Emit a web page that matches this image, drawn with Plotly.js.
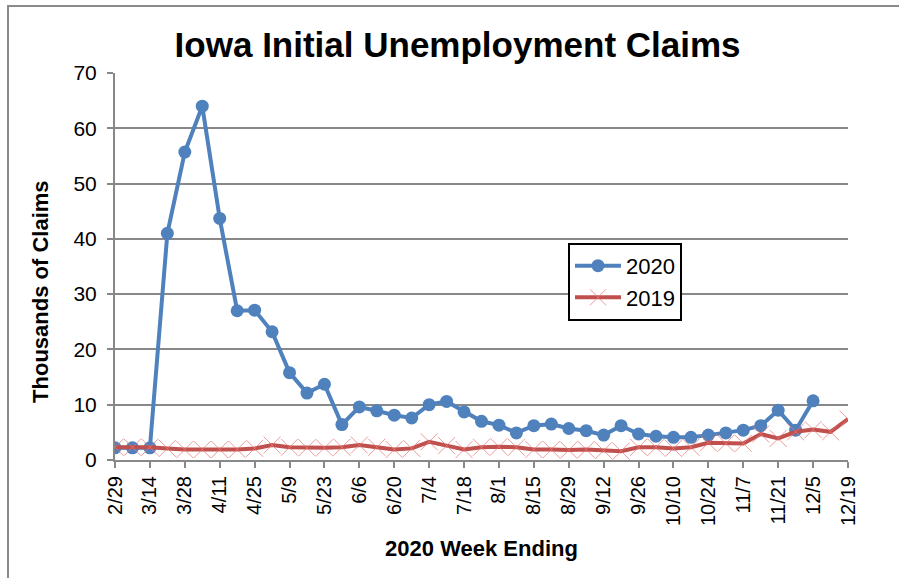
<!DOCTYPE html>
<html>
<head>
<meta charset="utf-8">
<script src="https://cdn.plot.ly/plotly-3.0.1.min.js"></script>
<style>
  html, body { margin: 0; padding: 0; background: #fff; }
  #chart { position: absolute; left: 0; top: 0; width: 899px; height: 578px; }
  #frame { position: absolute; left: 7px; top: 5px; width: 892px; height: 573px;
           border-top: 2px solid #8a8a8a; border-left: 2px solid #8a8a8a; pointer-events: none; }
</style>
</head>
<body>
<div id="chart"></div>
<div id="frame"></div>
<script>
const weeks = ["2/29","3/7","3/14","3/21","3/28","4/4","4/11","4/18","4/25","5/2","5/9","5/16","5/23","5/30",
  "6/6","6/13","6/20","6/27","7/4","7/11","7/18","7/25","8/1","8/8","8/15","8/22","8/29","9/5","9/12","9/19",
  "9/26","10/3","10/10","10/17","10/24","10/31","11/7","11/14","11/21","11/28","12/5","12/12","12/19"];

const claims2020 = [2.2,2.2,2.2,41,55.7,64,43.7,27,27.1,23.2,15.8,12.1,13.7,6.4,9.6,8.9,8.1,7.6,10.0,10.6,
  8.7,7.0,6.3,4.9,6.2,6.5,5.7,5.3,4.5,6.2,4.7,4.3,4.1,4.1,4.5,4.9,5.4,6.2,9.0,5.4,10.7];

const claims2019 = [2.3,2.3,2.3,2.1,1.9,1.9,1.9,1.9,2.1,2.7,2.3,2.2,2.2,2.3,2.7,2.3,1.9,2.1,3.3,2.6,
  1.9,2.3,2.4,2.3,1.9,1.9,1.8,1.9,1.7,1.6,2.3,2.3,2.1,2.3,3.1,3.0,3.0,4.7,3.9,5.1,5.5,5.1,7.4];

const tickLabels = weeks.filter((w, i) => i % 2 === 0);

const font = "Liberation Sans, Arial, sans-serif";

const traces = [
  {
    x: weeks.slice(0, claims2020.length), y: claims2020, name: "2020", type: "scatter", mode: "lines+markers",
    line: { color: "#4F81BD", width: 4 },
    marker: { symbol: "circle", size: 13, color: "#4F81BD" }
  },
  {
    x: weeks, y: claims2019, name: "2019", type: "scatter", mode: "lines+markers",
    line: { color: "#C0504D", width: 4 },
    marker: { symbol: "x-thin", size: 17, color: "#E58A88", line: { width: 1, color: "rgba(230,120,118,0.75)" } }
  }
];

const layout = {
  width: 899, height: 578,
  margin: { l: 115, r: 51, t: 73, b: 118 },
  paper_bgcolor: "#fff", plot_bgcolor: "#fff",
  font: { family: font, color: "#000" },
  title: { text: "<b>Iowa Initial Unemployment Claims</b>", font: { size: 35, family: font, color: "#000" },
           xref: "container", x: 0.509, xanchor: "center", yref: "container", y: 0.922, yanchor: "middle" },
  xaxis: {
    type: "category", categoryorder: "array", categoryarray: weeks,
    range: [0, weeks.length - 1],
    tickmode: "array", tickvals: tickLabels, ticktext: tickLabels,
    tickangle: -90, tickfont: { size: 20, family: font },
    ticks: "outside", ticklen: 6, tickwidth: 2, tickcolor: "#888",
    showline: true, linecolor: "#888", linewidth: 2, showgrid: false, zeroline: false,
    title: { text: "<b>2020 Week Ending</b>", font: { size: 22, family: font }, standoff: 16 }
  },
  yaxis: {
    range: [0, 70], dtick: 10, tickfont: { size: 21, family: font },
    ticks: "outside", ticklen: 6, tickwidth: 2, tickcolor: "#888", ticklabelstandoff: 6,
    showline: true, linecolor: "#888", linewidth: 2,
    showgrid: true, gridcolor: "#888", gridwidth: 2, zeroline: false
  },
  annotations: [{
    text: "<b>Thousands of Claims</b>", textangle: -90, showarrow: false,
    xref: "paper", yref: "paper", x: -0.102, y: 0.435, xanchor: "center", yanchor: "middle",
    font: { size: 22, family: font, color: "#000" }
  }],
  legend: {
    x: 0.618, y: 0.561, xanchor: "left", yanchor: "top",
    bgcolor: "#fff", bordercolor: "#000", borderwidth: 2,
    font: { size: 22, family: font }, itemwidth: 46, tracegroupgap: 0
  },
  showlegend: true
};

Plotly.newPlot("chart", traces, layout, { displayModeBar: false, staticPlot: true });
</script>
</body>
</html>
